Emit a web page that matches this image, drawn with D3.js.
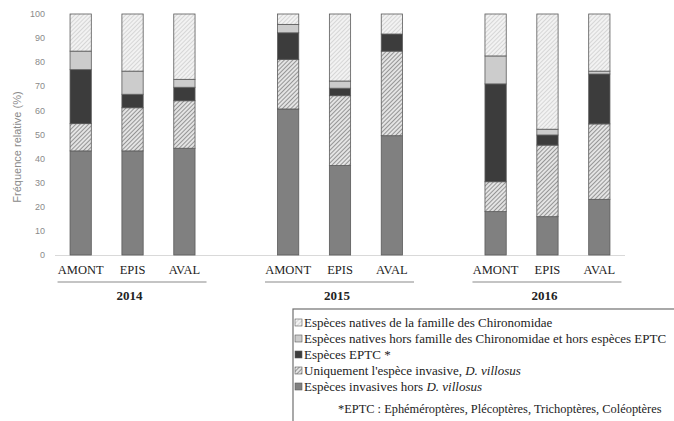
<!DOCTYPE html>
<html>
<head>
<meta charset="utf-8">
<script src="https://cdnjs.cloudflare.com/ajax/libs/d3/7.8.5/d3.min.js"></script>
<style>
  body { margin: 0; background: #fff; }
  svg { display: block; }
  .serif { font-family: "Liberation Serif", "DejaVu Serif", serif; }
  .sans { font-family: "Liberation Sans", "DejaVu Sans", sans-serif; }
</style>
</head>
<body>
<svg id="chart"></svg>
<script>
// data (percent, bottom to top)
var years = ["2014", "2015", "2016"];
var sites = ["AMONT", "EPIS", "AVAL"];
var invasivesHors = [43.2, 43.2, 44.3, 60.6, 37.1, 49.5, 18.0, 15.9, 23.1];
var villosus      = [11.3, 17.9, 19.7, 20.6, 29.0, 35.1, 12.4, 29.7, 31.3];
var eptc          = [22.4,  5.6,  5.6, 11.0,  3.1,  7.1, 40.6,  4.2, 20.7];
var nativesHors   = [ 7.7,  9.6,  3.3,  3.5,  3.0,  0.0, 11.6,  2.4,  1.2];
var chironomidae  = [15.4, 23.7, 27.1,  4.3, 27.8,  8.3, 17.4, 47.8, 23.7];
var yTicks = [0, 10, 20, 30, 40, 50, 60, 70, 80, 90, 100];
var legendLabels = [
  "Espèces natives de la famille des Chironomidae",
  "Espèces natives hors famille des Chironomidae et hors espèces EPTC",
  "Espèces EPTC *",
  "Uniquement l'espèce invasive, <i>D. villosus</i>",
  "Espèces invasives hors <i>D. villosus</i>"
];
var footnote = "*EPTC : Ephéméroptères, Plécoptères, Trichoptères, Coléoptères";

var width = 674, height = 421;
var svg = d3.select("#chart").attr("width", width).attr("height", height);

// patterns for the two hatched series
var defs = svg.append("defs");
function hatch(id, bg, fg, sw) {
  var p = defs.append("pattern").attr("id", id)
    .attr("patternUnits", "userSpaceOnUse")
    .attr("width", 3).attr("height", 3)
    .attr("patternTransform", "rotate(45)");
  p.append("rect").attr("width", 3).attr("height", 3).attr("fill", bg);
  p.append("line").attr("x1", 0).attr("y1", 0).attr("x2", 0).attr("y2", 3)
    .attr("stroke", fg).attr("stroke-width", sw);
}
hatch("hatchDark", "#e4e4e4", "#6a6a6a", 1.3);
hatch("hatchLight", "#f2f2f2", "#c4c4c4", 1.2);

var keys = ["invasivesHors", "villosus", "eptc", "nativesHors", "chironomidae"];
var fills = {
  invasivesHors: "#808080",
  villosus: "url(#hatchDark)",
  eptc: "#3c3c3c",
  nativesHors: "#cccccc",
  chironomidae: "url(#hatchLight)"
};

// one row per bar, with an empty slot between years
var rows = [];
var slots = [];
years.forEach(function (yr, g) {
  sites.forEach(function (s, k) {
    var i = g * 3 + k;
    rows.push({
      slot: "s" + (g * 4 + k), site: s, year: yr,
      invasivesHors: invasivesHors[i], villosus: villosus[i], eptc: eptc[i],
      nativesHors: nativesHors[i], chironomidae: chironomidae[i]
    });
  });
});
for (var j = 0; j < 11; j++) slots.push("s" + j);

var x = d3.scaleBand().domain(slots).range([55, 625]).paddingInner(0.59).paddingOuter(0.29);
var y = d3.scaleLinear().domain([0, 100]).range([255, 14]);

// y axis labels
svg.append("g").selectAll("text").data(yTicks).enter().append("text")
  .attr("class", "sans")
  .attr("x", 45).attr("y", function (d) { return y(d); })
  .attr("dy", "0.35em").attr("text-anchor", "end")
  .attr("font-size", 9).attr("fill", "#8a8a8a")
  .text(function (d) { return d; });

svg.append("text").attr("class", "sans")
  .attr("transform", "translate(21,147) rotate(-90)")
  .attr("text-anchor", "middle")
  .attr("font-size", 11).attr("fill", "#8a8a8a")
  .text("Fréquence relative (%)");

// baseline
svg.append("line").attr("x1", 55).attr("x2", 625)
  .attr("y1", y(0) + 0.5).attr("y2", y(0) + 0.5)
  .attr("stroke", "#d9d9d9").attr("stroke-width", 1);

// stacked bars
var series = d3.stack().keys(keys)(rows);
svg.append("g").selectAll("g").data(series).enter().append("g")
  .attr("fill", function (d) { return fills[d.key]; })
  .selectAll("rect").data(function (d) { return d; }).enter().append("rect")
  .attr("x", function (d) { return x(d.data.slot); })
  .attr("width", x.bandwidth())
  .attr("y", function (d) { return y(d[1]); })
  .attr("height", function (d) { return Math.max(0, y(d[0]) - y(d[1])); })
  .attr("stroke", "#5a5a5a").attr("stroke-width", 0.8);

// category labels
svg.append("g").selectAll("text").data(rows).enter().append("text")
  .attr("class", "serif")
  .attr("x", function (d) { return x(d.slot) + x.bandwidth() / 2; })
  .attr("y", 274).attr("text-anchor", "middle")
  .attr("font-size", 12.5).attr("fill", "#222")
  .text(function (d) { return d.site; });

// year groups
years.forEach(function (yr, g) {
  var first = x("s" + (g * 4)), last = x("s" + (g * 4 + 2)) + x.bandwidth();
  var cx = (first + last) / 2;
  svg.append("line")
    .attr("x1", cx - 75).attr("x2", cx + 74)
    .attr("y1", 282).attr("y2", 282)
    .attr("stroke", "#8a8a8a").attr("stroke-width", 1.2);
  svg.append("text").attr("class", "serif")
    .attr("x", cx - 3).attr("y", 300)
    .attr("text-anchor", "middle")
    .attr("font-size", 13).attr("font-weight", "bold").attr("fill", "#222")
    .text(yr);
});

// legend box
svg.append("rect").attr("x", 293).attr("y", 309).attr("width", 400).attr("height", 130)
  .attr("fill", "none").attr("stroke", "#707070").attr("stroke-width", 1.2);

var legendFills = [fills.chironomidae, fills.nativesHors, fills.eptc, fills.villosus, fills.invasivesHors];
var lg = svg.append("g").selectAll("g").data(legendLabels).enter().append("g")
  .attr("transform", function (d, i) { return "translate(295," + (327 + i * 16) + ")"; });
lg.append("rect").attr("x", 0).attr("y", -8).attr("width", 7).attr("height", 7)
  .attr("fill", function (d, i) { return legendFills[i]; })
  .attr("stroke", "#5a5a5a").attr("stroke-width", 0.6);
lg.append("text").attr("class", "serif")
  .attr("x", 9).attr("y", 0)
  .attr("font-size", 13).attr("fill", "#222")
  .html(function (d) { return d.replace(/<i>(.*?)<\/i>/g, '<tspan font-style="italic">$1</tspan>'); });

svg.append("text").attr("class", "serif")
  .attr("x", 338).attr("y", 413)
  .attr("font-size", 12.4).attr("fill", "#222")
  .text(footnote);
</script>
</body>
</html>
